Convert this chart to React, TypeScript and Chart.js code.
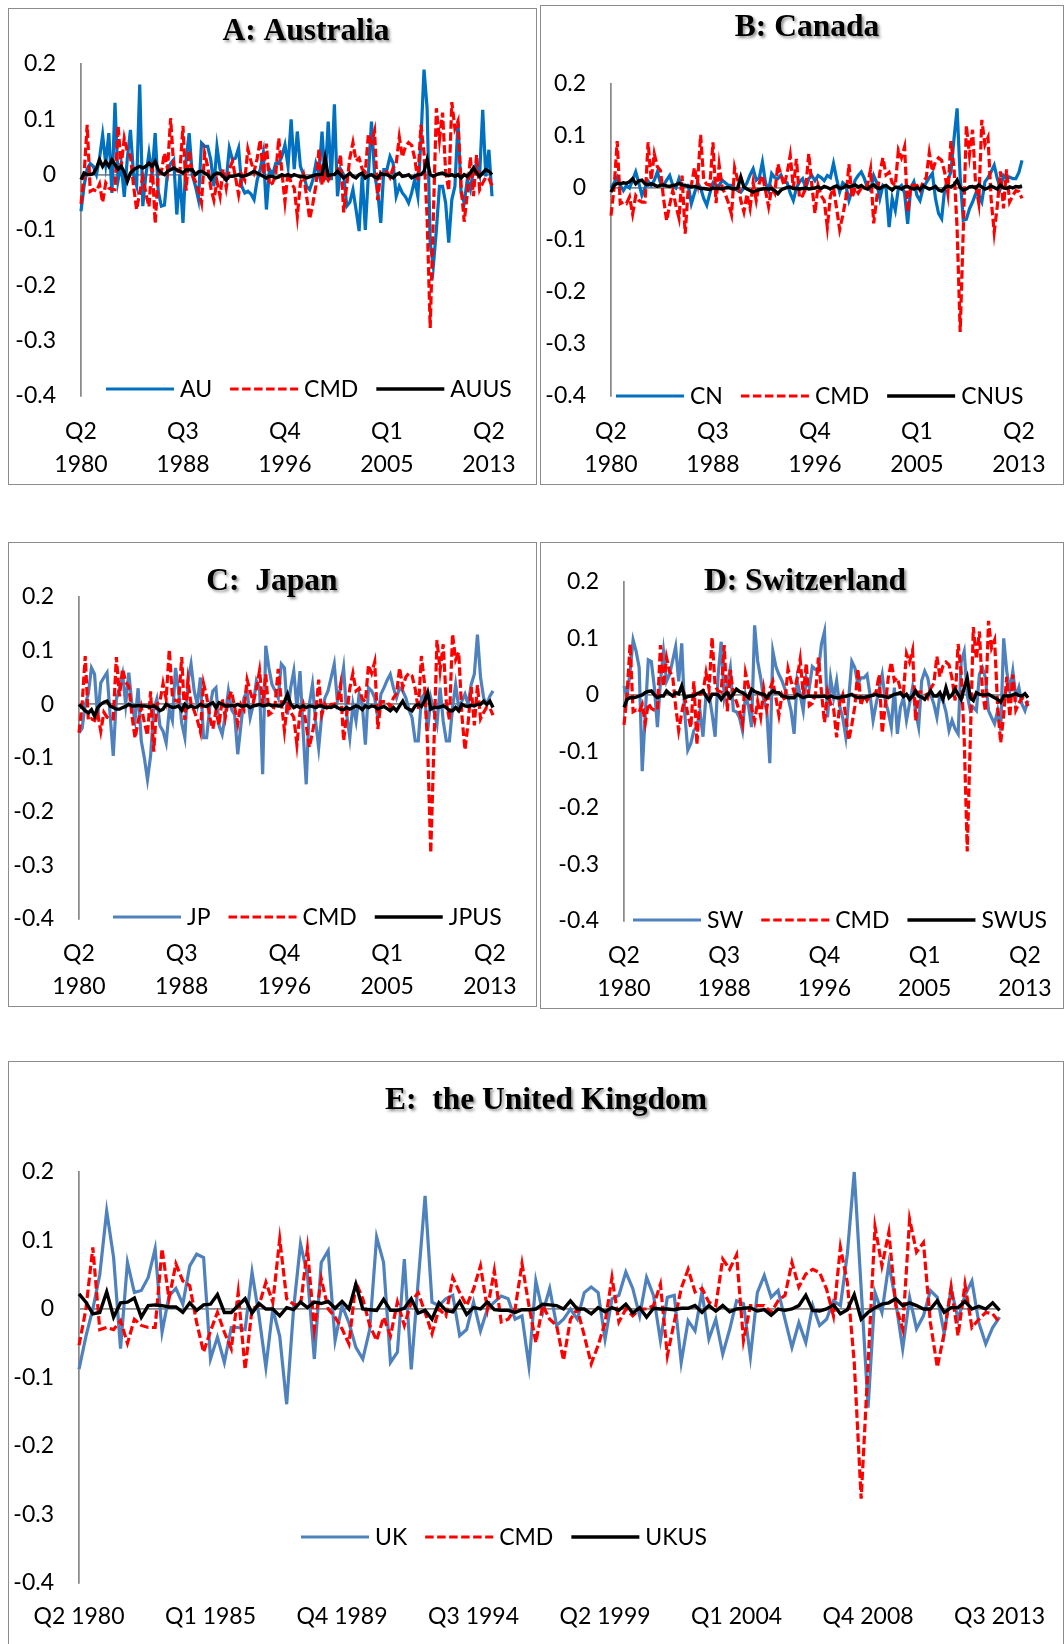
import React, { useEffect, useRef } from 'react';
import { Chart, registerables } from 'chart.js';

Chart.register(...registerables);

// Categories: quarterly, Q2 1980 .. Q3 2013 (134 quarters)
const QUARTERS: string[] = Array.from({ length: 134 }, (_, i) => {
  const t = 1 + i;
  return `Q${(t % 4) + 1} ${1980 + Math.floor(t / 4)}`;
});

const Y_MIN = -0.4;
const Y_MAX = 0.2;
const Y_STEP = 0.1;

// Commodity series (same in every panel)
const CMD = [
  -0.053, 0.0, 0.09, -0.03, -0.027, -0.03, -0.017, -0.05, -0.015, -0.024,
  -0.027, -0.027, 0.088, 0.015, 0.066, 0.041, 0.034, -0.02, -0.063, -0.032,
  -0.005, -0.034, -0.058, 0.024, -0.088, 0.0, 0.005, 0.039, 0.01, 0.102,
  0.015, 0.007, 0.005, 0.088, -0.029, 0.044, 0.0, -0.012, -0.029, -0.051,
  0.039, 0.015, -0.024, -0.046, -0.012, -0.039, 0.01, -0.024, 0.01, 0.024,
  -0.005, -0.036, 0.0, -0.01, 0.046, 0.024, 0.005, 0.029, 0.063, 0.0,
  0.056, -0.019, -0.015, 0.0, 0.066, 0.005, -0.049, 0.005, -0.015, -0.024,
  -0.075, -0.015, 0.0, -0.039, -0.08, -0.053, -0.02, 0.046, -0.019, 0.0,
  -0.01, 0.0, 0.0, 0.005, 0.036, -0.068, -0.019, 0.03, 0.058, 0.025,
  0.03, 0.01, 0.005, 0.073, 0.058, 0.079, -0.046, 0.005, 0.005, 0.005,
  -0.005, 0.012, 0.02, 0.068, 0.032, 0.051, 0.058, 0.053, 0.029, -0.01,
  0.09, 0.039, -0.078, -0.277, -0.08, 0.12, 0.063, 0.112, 0.005, -0.029,
  0.131, 0.083, 0.097, -0.02, -0.085, -0.035, 0.032, -0.039, 0.036, -0.027,
  -0.015, -0.005, -0.007, -0.02,
];

const AU = [
  -0.066, -0.02, 0.01, 0.02, 0.015, 0.0, 0.03, 0.072, 0.02, 0.075,
  -0.033, 0.13, -0.01, 0.02, -0.04, 0.03, 0.081, 0.0, -0.02, 0.163,
  -0.057, 0.0, 0.039, 0.0, 0.075, -0.03, -0.057, -0.055, 0.005, 0.02,
  0.027, -0.072, 0.0, -0.087, 0.027, 0.075, 0.0, -0.02, -0.045, 0.057,
  0.051, 0.051, 0.027, -0.021, 0.051, 0.01, 0.0, -0.01, 0.048, 0.027,
  0.03, 0.048, -0.021, -0.033, -0.03, -0.035, -0.045, -0.01, 0.01, 0.039,
  -0.063, 0.01, 0.0, 0.02, 0.02, 0.033, 0.054, 0.015, 0.1, 0.01,
  0.078, 0.015, 0.0, -0.021, -0.027, -0.01, 0.02, 0.0, 0.078, -0.01,
  0.096, -0.01, 0.127, -0.039, 0.01, 0.0, -0.057, -0.05, -0.027, -0.063,
  -0.102, 0.0, -0.1, 0.0, 0.096, 0.0, -0.03, -0.087, 0.009, 0.009,
  0.033, 0.021, -0.039, -0.021, -0.033, -0.04, -0.051, -0.033, -0.009, -0.039,
  0.063, 0.19, 0.12, -0.123, -0.166, -0.1, -0.021, -0.021, -0.051, -0.123,
  -0.045, -0.021, 0.096, -0.033, -0.051, -0.009, -0.027, 0.009, 0.02, 0.0,
  0.117, -0.003, 0.045, -0.039,
];

const AUUS = [
  -0.009, 0.003, 0.0, 0.0, 0.002, 0.012, 0.027, 0.015, 0.024, 0.015,
  0.027, 0.018, 0.01, 0.015, 0.005, -0.012, 0.003, 0.009, 0.012, 0.015,
  0.012, 0.015, 0.021, 0.015, 0.024, 0.009, 0.003, 0.0, 0.006, 0.009,
  0.012, 0.009, 0.006, 0.003, 0.009, 0.009, 0.009, 0.0, 0.005, 0.006,
  0.003, 0.0, -0.009, 0.0, 0.003, 0.002, -0.003, -0.009, -0.003, -0.003,
  -0.002, 0.0, -0.003, -0.002, 0.0, 0.003, 0.006, 0.003, 0.0, -0.003,
  -0.006, -0.003, -0.003, -0.006, -0.004, 0.0, -0.002, 0.0, -0.003, 0.0,
  -0.002, -0.004, -0.003, -0.006, -0.004, -0.002, 0.0, 0.0, 0.0, 0.03,
  -0.002, 0.0, 0.0, 0.006, 0.0, -0.006, -0.002, 0.003, -0.003, -0.006,
  0.0, 0.003, -0.006, -0.002, 0.0, -0.004, -0.006, 0.002, 0.0, 0.0,
  -0.003, -0.006, 0.0, 0.003, -0.003, -0.002, 0.0, -0.006, -0.003, 0.0,
  0.0, 0.006, 0.027, 0.0, -0.003, 0.0, 0.002, 0.003, 0.0, -0.002,
  0.0, -0.003, 0.0, -0.006, 0.0, -0.003, 0.003, 0.012, 0.003, -0.003,
  0.003, 0.009, 0.006, 0.0,
];

const CN = [
  0.0, 0.01, 0.021, 0.005, -0.005, 0.005, 0.0, 0.015, 0.031, 0.01,
  -0.014, 0.0, 0.013, 0.005, 0.015, 0.031, 0.01, 0.005, 0.015, 0.024,
  0.005, 0.0, 0.018, 0.0, 0.005, 0.005, -0.03, -0.01, 0.01, 0.0,
  -0.02, -0.033, -0.01, 0.01, 0.005, 0.005, 0.015, 0.01, 0.005, 0.005,
  0.0, -0.005, -0.008, 0.0, 0.01, 0.025, 0.037, 0.015, 0.02, 0.05,
  0.01, -0.005, 0.028, 0.02, 0.018, 0.025, 0.012, 0.01, -0.01, -0.024,
  0.0, 0.012, 0.018, 0.0, 0.018, 0.024, 0.014, 0.024, 0.02, 0.014,
  0.024, 0.02, 0.047, 0.018, -0.008, 0.01, 0.005, -0.024, -0.005, 0.015,
  0.024, 0.031, 0.018, 0.0, -0.005, 0.024, 0.01, -0.02, 0.005, 0.0,
  -0.075, -0.02, -0.043, 0.0, 0.005, -0.01, -0.069, 0.0, 0.012, -0.014,
  -0.024, 0.0, 0.01, 0.02, 0.028, -0.02, -0.049, -0.059, 0.0, 0.015,
  0.031, 0.095, 0.153, 0.02, -0.062, -0.06, -0.04, -0.027, -0.011, -0.014,
  -0.027, 0.012, 0.02, 0.031, 0.044, 0.018, 0.0, 0.024, 0.018, 0.021,
  0.018, 0.018, 0.03, 0.053,
];

const CNUS = [
  -0.008, 0.005, 0.009, 0.008, 0.01, 0.009, 0.012, 0.018, 0.008, 0.014,
  0.015, 0.008, 0.006, 0.008, 0.006, 0.003, 0.005, 0.006, 0.004, 0.003,
  0.005, 0.006, 0.009, 0.006, 0.005, 0.003, 0.002, 0.003, 0.001, -0.001,
  -0.001, -0.002, -0.003, 0.0, -0.001, -0.001, -0.002, 0.0, 0.001, -0.001,
  -0.002, 0.0, 0.021, 0.002, -0.002, -0.005, -0.008, -0.005, -0.003, -0.002,
  -0.001, -0.002, -0.001, -0.005, -0.011, -0.004, -0.001, 0.001, 0.002, -0.001,
  -0.001, -0.002, -0.001, 0.0, -0.002, -0.001, 0.0, 0.002, -0.001, 0.003,
  0.001, -0.002, 0.002, 0.004, -0.001, 0.0, 0.005, 0.002, 0.004, 0.006,
  0.002, 0.005, 0.0, -0.002, 0.003, 0.006, 0.001, -0.001, 0.003, 0.005,
  0.0, -0.004, 0.002, 0.001, -0.002, 0.002, 0.003, 0.0, -0.002, 0.001,
  -0.003, 0.004, 0.001, -0.002, 0.0, 0.003, -0.004, -0.006, 0.0, 0.004,
  0.002, 0.006, 0.015, 0.001, -0.004, -0.002, 0.002, 0.003, 0.0, 0.006,
  0.002, -0.002, 0.0, 0.004, 0.001, -0.002, 0.006, 0.0, -0.001, 0.002,
  0.0, 0.003, 0.002, 0.004,
];

const JP = [
  -0.053, -0.045, 0.0, 0.02, 0.068, 0.056, -0.025, 0.04, 0.05, 0.059,
  -0.02, -0.096, 0.01, 0.03, 0.056, 0.0, 0.059, 0.0, -0.03, 0.03,
  -0.068, -0.1, -0.14, -0.096, -0.01, 0.01, -0.04, -0.05, -0.072, -0.01,
  -0.03, 0.068, 0.025, -0.035, -0.062, 0.043, 0.075, 0.025, 0.0, 0.05,
  -0.062, -0.062, -0.006, 0.025, 0.031, -0.04, -0.056, -0.02, 0.025, -0.01,
  -0.019, -0.093, -0.04, 0.012, 0.025, -0.025, 0.0, 0.044, 0.031, -0.13,
  0.109, 0.068, 0.037, 0.025, 0.012, 0.075, 0.068, -0.019, 0.031, 0.062,
  -0.006, 0.062, -0.05, -0.149, 0.0, 0.037, -0.031, -0.081, -0.019, 0.012,
  0.025, 0.05, 0.075, 0.006, 0.03, 0.068, -0.019, -0.062, 0.0, -0.031,
  0.019, 0.0, -0.075, 0.031, 0.025, 0.012, -0.025, 0.019, 0.031, 0.045,
  0.056, 0.031, 0.012, 0.031, 0.025, 0.012, -0.01, -0.025, -0.068, -0.068,
  0.012, 0.019, -0.05, 0.012, -0.012, -0.037, 0.031, -0.031, -0.068, -0.068,
  -0.006, 0.037, -0.006, 0.006, 0.019, 0.0, 0.037, 0.056, 0.13, 0.05,
  0.012, 0.0, 0.015, 0.025,
];

const JPUS = [
  0.0, -0.006, -0.012, -0.016, -0.01, -0.022, -0.006, 0.0, 0.004, 0.006,
  -0.003, -0.006, -0.009, -0.009, -0.006, -0.004, 0.0, -0.003, -0.003, -0.002,
  -0.003, -0.003, -0.004, -0.005, -0.003, -0.006, -0.012, -0.009, 0.0, -0.003,
  -0.006, -0.005, -0.003, -0.011, 0.0, -0.006, -0.003, -0.006, -0.005, 0.0,
  -0.003, -0.004, 0.0, 0.003, -0.006, 0.003, 0.0, -0.003, -0.003, -0.002,
  -0.003, 0.0, -0.003, -0.003, -0.002, -0.006, -0.003, -0.002, 0.0, -0.003,
  -0.002, 0.0, -0.003, -0.002, -0.003, -0.003, 0.005, 0.019, 0.0, -0.006,
  -0.003, -0.006, -0.003, -0.006, -0.003, -0.004, -0.006, -0.003, -0.003, -0.006,
  -0.005, -0.006, -0.003, -0.006, -0.009, -0.01, -0.006, -0.009, -0.006, -0.003,
  -0.005, -0.01, -0.003, -0.006, -0.003, -0.004, -0.009, -0.006, -0.004, -0.008,
  -0.012, -0.006, -0.012, -0.003, 0.006, -0.006, -0.009, -0.012, -0.003, 0.0,
  -0.004, 0.006, 0.022, -0.009, -0.006, -0.006, -0.005, -0.003, -0.006, -0.012,
  -0.012, -0.006, -0.012, 0.0, -0.003, -0.004, -0.002, -0.003, 0.0, 0.0,
  0.006, 0.0, 0.006, -0.006,
];

const SW = [
  0.016, -0.005, 0.042, 0.097, 0.077, 0.048, -0.135, -0.034, 0.062, 0.059,
  0.013, -0.057, 0.024, 0.077, 0.024, 0.036, 0.06, 0.085, 0.024, 0.091,
  -0.033, -0.098, -0.086, -0.063, -0.057, -0.028, -0.074, 0.0, 0.0, -0.034,
  -0.074, 0.036, 0.094, -0.005, 0.02, 0.048, -0.028, -0.03, -0.04, -0.063,
  0.0, -0.02, -0.057, 0.123, 0.06, 0.03, -0.01, -0.028, -0.121, 0.077,
  0.05, 0.036, 0.025, 0.01, -0.005, -0.028, -0.069, 0.025, 0.0, -0.028,
  0.03, 0.013, 0.05, 0.045, 0.042, 0.09, 0.112, -0.04, 0.03, -0.005,
  0.025, -0.02, -0.04, -0.074, -0.005, 0.059, 0.048, 0.019, 0.03, 0.03,
  0.036, 0.0, -0.045, -0.016, 0.01, 0.036, -0.01, -0.03, -0.057, 0.013,
  -0.069, -0.022, -0.005, -0.045, -0.016, 0.013, -0.03, -0.057, 0.025, 0.042,
  0.03, 0.0, -0.016, -0.04, 0.0, -0.01, -0.03, -0.063, -0.045, -0.06,
  -0.069, 0.059, 0.077, 0.0, -0.028, -0.022, -0.028, 0.036, 0.048, 0.03,
  -0.028, -0.04, -0.051, -0.028, -0.063, 0.1, 0.042, 0.007, 0.042, -0.005,
  0.013, -0.016, -0.028, -0.01,
];

const SWUS = [
  -0.022, -0.008, -0.005, -0.005, -0.004, -0.002, 0.0, 0.004, 0.006, 0.007,
  0.0, -0.005, -0.002, -0.002, 0.007, 0.002, -0.002, 0.004, 0.002, 0.016,
  -0.005, -0.003, -0.002, -0.002, 0.002, 0.004, 0.007, -0.002, -0.01, 0.001,
  0.001, 0.0, -0.008, 0.0, 0.004, -0.005, 0.002, 0.01, 0.006, 0.004,
  0.0, -0.005, 0.01, 0.006, 0.004, 0.002, 0.001, -0.005, 0.002, 0.007,
  0.004, 0.004, -0.002, -0.003, -0.005, -0.005, -0.005, 0.001, -0.002, -0.005,
  -0.003, -0.002, -0.003, -0.003, -0.003, -0.003, -0.002, -0.005, -0.002, -0.004,
  -0.005, -0.005, -0.003, -0.003, -0.001, 0.001, -0.003, -0.005, -0.004, -0.005,
  -0.003, -0.002, -0.001, 0.001, -0.002, -0.002, -0.003, -0.005, -0.002, 0.001,
  0.002, 0.004, -0.003, 0.001, -0.008, -0.002, 0.007, -0.002, -0.004, -0.008,
  0.0, 0.007, -0.002, -0.002, 0.004, -0.008, 0.013, -0.005, 0.0, 0.01,
  0.001, -0.008, 0.012, 0.03, -0.005, -0.01, 0.004, 0.001, 0.0, 0.0,
  0.001, -0.002, -0.005, -0.008, -0.013, -0.002, -0.002, -0.002, 0.0, 0.002,
  -0.001, -0.002, 0.002, -0.005,
];

const UK = [
  -0.088, -0.04, 0.0, 0.05, 0.143, 0.075, -0.058, 0.068, 0.024, 0.027,
  0.046, 0.088, -0.034, 0.019, 0.03, 0.007, 0.063, 0.08, 0.075, -0.073,
  -0.041, -0.078, -0.027, -0.027, -0.03, 0.054, -0.01, -0.085, 0.0, -0.04,
  -0.139, 0.0, 0.095, 0.05, -0.073, 0.068, 0.085, -0.046, 0.005, -0.02,
  -0.056, -0.073, -0.03, 0.105, 0.068, -0.078, -0.063, 0.073, -0.088, 0.04,
  0.165, 0.01, 0.005, 0.015, 0.02, -0.039, -0.03, 0.01, -0.032, 0.0,
  0.01, 0.019, 0.015, -0.015, -0.01, -0.083, 0.041, -0.005, 0.03, -0.024,
  -0.015, 0.0, -0.015, 0.024, 0.032, 0.024, -0.044, 0.015, 0.02, 0.054,
  0.03, -0.01, 0.046, 0.02, -0.046, 0.017, 0.02, -0.078, -0.017, -0.032,
  0.025, -0.044, -0.015, -0.066, -0.03, 0.012, 0.008, -0.07, 0.024, 0.049,
  0.017, 0.027, -0.015, -0.056, -0.02, -0.049, 0.005, -0.024, -0.015, 0.012,
  0.005, 0.08, 0.2, 0.03, -0.144, 0.024, -0.005, 0.066, 0.01, -0.058,
  0.017, -0.029, -0.01, 0.027, 0.017, -0.036, 0.03, -0.015, 0.02, 0.041,
  -0.02, -0.051, -0.027, -0.012,
];

const UKUS = [
  0.022, 0.01, -0.007, -0.005, 0.025, -0.012, 0.009, 0.01, 0.016, -0.012,
  0.005, 0.006, 0.005, 0.003, 0.003, -0.005, 0.009, -0.002, 0.006, 0.007,
  0.021, -0.005, -0.005, 0.005, 0.015, -0.006, 0.008, 0.0, 0.0, -0.01,
  0.002, -0.001, 0.01, 0.002, 0.01, 0.008, 0.011, 0.001, 0.011, 0.0,
  0.036, 0.0, -0.001, -0.002, 0.014, -0.002, -0.002, 0.001, 0.015, -0.006,
  -0.002, -0.015, 0.009, -0.002, -0.004, 0.011, -0.008, 0.002, 0.0, 0.01,
  -0.001, -0.002, -0.002, -0.005, -0.001, -0.001, 0.0, 0.007, 0.006, 0.005,
  0.0, 0.012, 0.0, 0.0, -0.007, 0.002, -0.004, 0.002, -0.002, 0.007,
  -0.006, 0.002, -0.012, 0.001, 0.0, 0.0, -0.001, 0.001, 0.001, 0.005,
  -0.005, 0.005, -0.003, 0.005, -0.004, 0.0, 0.001, 0.002, -0.003, -0.001,
  -0.009, 0.0, -0.002, 0.0, 0.005, 0.02, -0.002, -0.003, 0.0, 0.006,
  -0.007, -0.001, 0.021, -0.015, -0.005, 0.002, 0.007, 0.009, 0.015, 0.005,
  0.009, 0.005, 0.0, 0.0, 0.012, -0.005, 0.002, 0.002, 0.011, 0.0,
  0.004, 0.0, 0.009, -0.002,
];

const BLUE_BRIGHT = '#0070C0';
const BLUE_STEEL = '#4F81BD';
const RED = '#FF0000';
const BLACK = '#000000';
const AXIS_GRAY = '#8a8a8a';
const TICK_FONT = 'Lato';
const TICK_SIZE = 23;
const TICK_LH = 1.4;

type PanelDef = {
  key: string;
  title: string;
  left: number; top: number; w: number; h: number;
  axisX: number; lastX: number; yTop: number; yBot: number;
  label1Y: number;
  legendX: number; legendY: number;
  titleX: number; titleY: number;
  step: number; twoLine: boolean;
  main: number[]; mainLabel: string; mainColor: string;
  pair: number[]; pairLabel: string;
};

const PANELS: PanelDef[] = [
  { key: 'A', title: 'A: Australia', left: 8, top: 8, w: 529, h: 477, axisX: 81, lastX: 492, yTop: 64, yBot: 396, label1Y: 432, legendX: 106, legendY: 389, titleX: 306, titleY: 32, step: 33, twoLine: true, main: AU, mainLabel: 'AU', mainColor: BLUE_BRIGHT, pair: AUUS, pairLabel: 'AUUS' },
  { key: 'B', title: 'B: Canada', left: 540, top: 5, w: 524, h: 480, axisX: 611, lastX: 1022, yTop: 84, yBot: 396, label1Y: 432, legendX: 616, legendY: 396, titleX: 807, titleY: 28, step: 33, twoLine: true, main: CN, mainLabel: 'CN', mainColor: BLUE_BRIGHT, pair: CNUS, pairLabel: 'CNUS' },
  { key: 'C', title: 'C:  Japan', left: 8, top: 542, w: 529, h: 465, axisX: 79, lastX: 493, yTop: 597, yBot: 919, label1Y: 954, legendX: 113, legendY: 917, titleX: 272, titleY: 582, step: 33, twoLine: true, main: JP, mainLabel: 'JP', mainColor: BLUE_STEEL, pair: JPUS, pairLabel: 'JPUS' },
  { key: 'D', title: 'D: Switzerland', left: 540, top: 542, w: 524, h: 467, axisX: 624, lastX: 1028, yTop: 578, yBot: 921, label1Y: 956, legendX: 633, legendY: 920, titleX: 805, titleY: 582, step: 33, twoLine: true, main: SW, mainLabel: 'SW', mainColor: BLUE_STEEL, pair: SWUS, pairLabel: 'SWUS' },
  { key: 'E', title: 'E:  the United Kingdom', left: 8, top: 1061, w: 1056, h: 590, axisX: 79, lastX: 1022, yTop: 1172, yBot: 1583, label1Y: 1617, legendX: 301, legendY: 1537, titleX: 546, titleY: 1101, step: 19, twoLine: false, main: UK, mainLabel: 'UK', mainColor: BLUE_STEEL, pair: UKUS, pairLabel: 'UKUS' },
];

const overlayPlugin = {
  id: 'overlay',
  afterDraw(chart: any, _args: any, opts: any) {
    const ctx = chart.ctx as CanvasRenderingContext2D;
    ctx.save();
    ctx.font = 'bold 31.5px "Liberation Serif", "Times New Roman", serif';
    ctx.textAlign = 'center';
    ctx.textBaseline = 'middle';
    ctx.shadowColor = 'rgba(0,0,0,0.45)';
    ctx.shadowBlur = 3;
    ctx.shadowOffsetX = 2;
    ctx.shadowOffsetY = 2;
    ctx.fillStyle = '#000';
    ctx.fillText(opts.title, opts.titleX, opts.titleY);
    ctx.restore();

    ctx.save();
    ctx.font = `${TICK_SIZE}px ${TICK_FONT}`;
    ctx.textAlign = 'left';
    ctx.textBaseline = 'middle';
    let x = opts.legendX;
    const y = opts.legendY;
    for (const it of opts.items) {
      ctx.beginPath();
      ctx.strokeStyle = it.color;
      ctx.lineWidth = it.width;
      ctx.setLineDash(it.dash || []);
      ctx.moveTo(x, y);
      ctx.lineTo(x + 68, y);
      ctx.stroke();
      ctx.setLineDash([]);
      x += 74;
      ctx.fillStyle = '#000';
      ctx.fillText(it.label, x, y + 1);
      x += ctx.measureText(it.label).width + 18;
    }
    ctx.restore();
  },
};

function Panel({ def }: { def: PanelDef }) {
  const ref = useRef<HTMLCanvasElement>(null);
  const cw = def.w - 2;
  const ch = def.h - 2;

  useEffect(() => {
    const canvas = ref.current;
    if (!canvas) return;
    const ox = def.left + 1;
    const oy = def.top + 1;
    const chartLeft = def.axisX - ox;
    const chartRight = def.lastX - ox;
    const chartTop = def.yTop - oy;
    const chartBottom = def.yBot - oy;
    const lh = TICK_SIZE * TICK_LH;
    const labelPad = def.label1Y - def.yBot - lh / 2;

    const mainStyle = { color: def.mainColor, width: 3.2, dash: [] as number[] };
    const cmdStyle = { color: RED, width: 3.2, dash: [8.5, 3.5] };
    const pairStyle = { color: BLACK, width: 3.4, dash: [] as number[] };

    const chart = new Chart(canvas, {
      type: 'line',
      data: {
        labels: QUARTERS,
        datasets: [
          { label: def.mainLabel, data: def.main, borderColor: mainStyle.color, borderWidth: mainStyle.width, pointRadius: 0, tension: 0, fill: false, order: 2, clip: false } as any,
          { label: 'CMD', data: CMD, borderColor: cmdStyle.color, borderWidth: cmdStyle.width, borderDash: cmdStyle.dash, pointRadius: 0, tension: 0, fill: false, order: 1, clip: false } as any,
          { label: def.pairLabel, data: def.pair, borderColor: pairStyle.color, borderWidth: pairStyle.width, pointRadius: 0, tension: 0, fill: false, order: 0, clip: false } as any,
        ],
      },
      options: {
        responsive: false,
        animation: false,
        events: [],
        layout: { padding: { left: 0, top: chartTop, right: cw - chartRight, bottom: 0 } },
        plugins: {
          legend: { display: false },
          title: { display: false },
          tooltip: { enabled: false },
          overlay: {
            title: def.title,
            titleX: def.titleX - ox,
            titleY: def.titleY - oy,
            legendX: def.legendX - ox,
            legendY: def.legendY - oy,
            items: [
              { label: def.mainLabel, ...mainStyle },
              { label: 'CMD', ...cmdStyle },
              { label: def.pairLabel, ...pairStyle },
            ],
          },
        } as any,
        scales: {
          x: {
            type: 'category',
            offset: false,
            grid: { display: false, drawTicks: false },
            border: { display: false },
            ticks: {
              autoSkip: false,
              maxRotation: 0,
              minRotation: 0,
              padding: labelPad,
              color: '#000',
              font: { family: TICK_FONT, size: TICK_SIZE, lineHeight: TICK_LH },
              callback: (_v: any, index: number) => {
                if (index % def.step !== 0) return '';
                const q = QUARTERS[index];
                return def.twoLine ? q.split(' ') : q;
              },
            },
            afterFit: (s: any) => { s.height = ch - chartBottom; },
          },
          y: {
            min: Y_MIN,
            max: Y_MAX,
            grid: {
              drawTicks: false,
              lineWidth: 1.75,
              color: (c: any) => (c.tick && Math.abs(c.tick.value) < 1e-9 ? AXIS_GRAY : 'rgba(0,0,0,0)'),
            },
            border: { display: true, color: AXIS_GRAY, width: 1.75 },
            ticks: {
              stepSize: Y_STEP,
              padding: 25,
              color: '#000',
              font: { family: TICK_FONT, size: TICK_SIZE },
              callback: (v: any) => {
                const r = Math.round(Number(v) * 10) / 10;
                return r === 0 ? '0' : r.toFixed(1);
              },
            },
            afterFit: (s: any) => { s.width = chartLeft; },
          },
        } as any,
      },
      plugins: [overlayPlugin as any],
    });
    return () => chart.destroy();
  }, []);

  return (
    <div
      style={{
        position: 'absolute',
        left: def.left,
        top: def.top,
        width: def.w,
        height: def.h,
        border: '1px solid #8c8c8c',
        boxSizing: 'border-box',
        background: '#fff',
      }}
    >
      <canvas ref={ref} width={cw} height={ch} style={{ display: 'block', width: cw, height: ch }} />
    </div>
  );
}

export default function App() {
  return (
    <div style={{ position: 'absolute', left: 0, top: 0, width: 1064, height: 1644, background: '#fff', overflow: 'hidden' }}>
      {PANELS.map((p) => (
        <Panel key={p.key} def={p} />
      ))}
    </div>
  );
}
